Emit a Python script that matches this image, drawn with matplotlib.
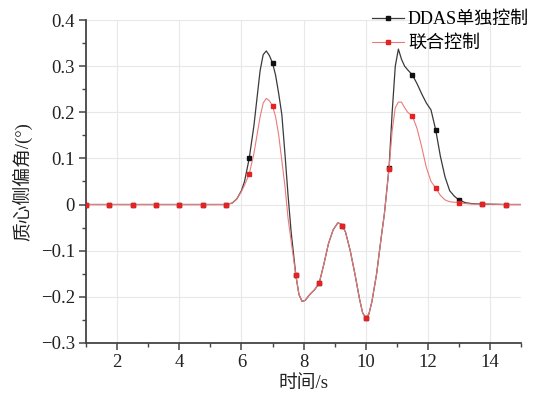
import numpy as np
import matplotlib
matplotlib.use("Agg")
import matplotlib.pyplot as plt
from matplotlib.ticker import MultipleLocator

plt.rcParams['font.family'] = ['Liberation Serif', 'Noto Sans CJK SC']

# time axis (s)
t = [1, 1.75, 2.5, 3.25, 4, 4.75, 5.5, 5.7, 5.85, 6.0, 6.1, 6.25, 6.4, 6.5, 6.6,
     6.7, 6.8, 6.9, 7.0, 7.1, 7.2, 7.3, 7.4, 7.5, 7.6, 7.75, 7.85, 7.95, 8.05,
     8.2, 8.35, 8.5, 8.65, 8.8, 8.95, 9.1, 9.2, 9.25, 9.35, 9.5, 9.65, 9.8, 9.9,
     10.0, 10.1, 10.2, 10.35, 10.5, 10.6, 10.75, 10.85, 10.95, 11.05, 11.15,
     11.25, 11.35, 11.5, 11.65, 11.8, 11.95, 12.1, 12.25, 12.4, 12.55, 12.7,
     12.85, 13.0, 13.2, 13.4, 13.75, 14.5, 15]

# DDAS alone
ddas = [0, 0, 0, 0, 0, 0, 0, 0.003, 0.012, 0.03, 0.05, 0.10, 0.17, 0.23, 0.29,
        0.325, 0.333, 0.323, 0.307, 0.28, 0.24, 0.195, 0.11, 0.02, -0.06, -0.153,
        -0.195, -0.21, -0.208, -0.195, -0.185, -0.171, -0.13, -0.085, -0.055,
        -0.04, -0.042, -0.046, -0.06, -0.1, -0.15, -0.205, -0.235, -0.246,
        -0.238, -0.21, -0.15, -0.07, -0.02, 0.08, 0.2, 0.3, 0.337, 0.315, 0.3,
        0.292, 0.281, 0.262, 0.24, 0.22, 0.205, 0.162, 0.105, 0.06, 0.03, 0.018,
        0.01, 0.004, 0.002, 0.001, 0, 0]

# integrated control
joint = [0, 0, 0, 0, 0, 0, 0, 0.003, 0.012, 0.028, 0.042, 0.066, 0.11, 0.15, 0.19,
         0.22, 0.23, 0.225, 0.214, 0.19, 0.15, 0.095, 0.04, -0.03, -0.08, -0.153,
         -0.195, -0.21, -0.208, -0.195, -0.185, -0.171, -0.13, -0.085, -0.055,
         -0.04, -0.042, -0.046, -0.06, -0.1, -0.15, -0.205, -0.235, -0.246,
         -0.238, -0.21, -0.15, -0.07, -0.02, 0.078, 0.16, 0.21, 0.222, 0.222, 0.21,
         0.2, 0.192, 0.165, 0.125, 0.08, 0.05, 0.036, 0.02, 0.01, 0.006, 0.005,
         0.004, 0.002, 0.001, 0.001, 0, 0]

marker_times = [1, 1.75, 2.5, 3.25, 4, 4.75, 5.5, 6.25, 7.0, 7.75, 8.5, 9.25,
                10.0, 10.75, 11.5, 12.25, 13.0, 13.75, 14.5]
labels = ['DDAS单独控制', '联合控制']
yticks = [-0.3, -0.2, -0.1, 0, 0.1, 0.2, 0.3, 0.4]
yticklabels = ['−0.3', '−0.2', '−0.1', '0', '0.1', '0.2', '0.3', '0.4']

t = np.array(t)
mk = list(np.where(np.isin(t, marker_times))[0])

fig = plt.figure(figsize=(5.48, 4.01), dpi=100)
ax = fig.add_axes([0.157, 0.145, 0.794, 0.805])

ax.plot(t, ddas, color='#3a3a3a', lw=0.9, marker='s', ms=3.0,
        markevery=mk, mfc='#111111', mec='#111111', label=labels[0], zorder=3)
ax.plot(t, joint, color='#ec7a7a', lw=0.8, marker='s', ms=3.0,
        markevery=mk, mfc='#e52222', mec='#e52222', label=labels[1], zorder=4)

ax.set_xlim(1, 15)
ax.set_ylim(-0.3, 0.4)
ax.xaxis.set_major_locator(MultipleLocator(2))
ax.xaxis.set_minor_locator(MultipleLocator(1))
ax.set_yticks(yticks)
ax.set_yticklabels(yticklabels)
ax.yaxis.set_minor_locator(MultipleLocator(0.05))

ax.grid(True, which='major', color='#e8e8e8', lw=0.8)
ax.set_axisbelow(True)
for s in ['top', 'right']:
    ax.spines[s].set_visible(False)
for s in ['left', 'bottom']:
    ax.spines[s].set_color('#444444')
    ax.spines[s].set_linewidth(1.3)
ax.tick_params(which='major', length=5, width=1.1, color='#444444',
               labelsize=13.5, labelcolor='#222222', pad=3)
ax.tick_params(which='minor', length=3, width=1.0, color='#444444')

ax.set_xlabel('时间/s', fontsize=13.5, color='#222222', labelpad=3)
ax.set_ylabel('质心侧偏角/(°)', fontsize=13.5, color='#222222', labelpad=6)

fig.legend(loc='upper right', bbox_to_anchor=(0.985, 1.0), frameon=False,
           fontsize=13, handlelength=1.8, handletextpad=0.2, labelspacing=0.4,
           borderaxespad=0.2)

fig.savefig('out.png', dpi=100, facecolor='white')
